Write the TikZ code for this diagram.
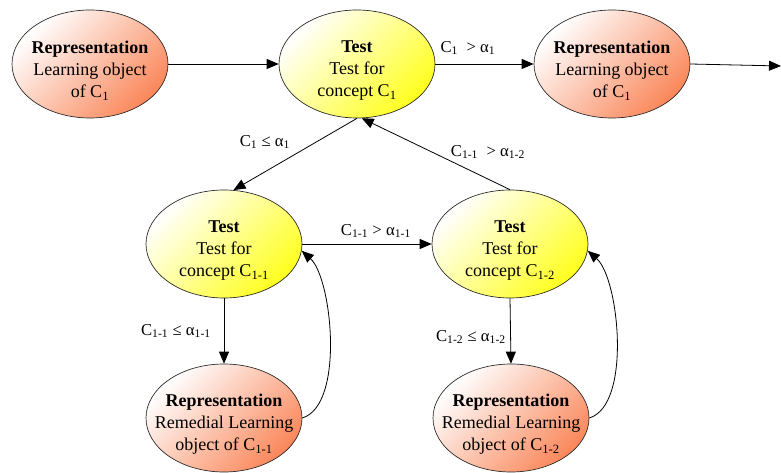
\documentclass[tikz,border=0pt]{standalone}
\usepackage{fontspec}
\setmainfont{Liberation Serif}
\usetikzlibrary{shapes.geometric,arrows.meta}

\definecolor{repfill}{RGB}{250,135,90}
\definecolor{testfill}{RGB}{255,255,30}

\newcommand{\sbs}[1]{\textsubscript{#1}}
% bold heading line; the strut sets the text block a little low in its ellipse
\newcommand{\heading}[1]{\rule{0pt}{19pt}\textbf{#1}}

\tikzset{
  stateshape/.style={ellipse, draw=black!85, line width=0.5pt,
    minimum width=117pt, minimum height=81pt, inner xsep=-14pt, inner ysep=-6pt,
    align=center, font=\fontsize{13.5}{16.5}\selectfont},
  repnode/.style={stateshape, top color=white, bottom color=repfill, shading angle=45},
  testnode/.style={stateshape, top color=white, bottom color=testfill, shading angle=45},
  link/.style={line width=0.6pt, -{Triangle[length=9pt,width=7.5pt]}},
  cond/.style={inner sep=0pt, font=\fontsize{12.5}{14}\selectfont}
}

\begin{document}
\begin{tikzpicture}[x=0.75pt, y=-0.75pt]
  \useasboundingbox (0,0) rectangle (781,473);

  % top row
  \node[repnode]  (R1)  at (90,64)  {\heading{Representation}\\Learning object\\of C\sbs{1}};
  \node[testnode] (T1)  at (357,64) {\heading{Test}\\Test for\\concept C\sbs{1}};
  \node[repnode]  (R2)  at (612,64) {\heading{Representation}\\Learning object\\of C\sbs{1}};
  \coordinate (out) at (781,66);

  % sub-concept tests
  \node[testnode] (T11) at (224,244) {\heading{Test}\\Test for\\concept C\sbs{1-1}};
  \node[testnode] (T12) at (510,244) {\heading{Test}\\Test for\\concept C\sbs{1-2}};

  % remedial material
  \node[repnode]  (R11) at (224,418) {\heading{Representation}\\Remedial Learning\\object of C\sbs{1-1}};
  \node[repnode]  (R12) at (511,418) {\heading{Representation}\\Remedial Learning\\object of C\sbs{1-2}};

  % connectors
  \draw[link] (R1.east) -- (T1.west);
  \draw[link] (T1.east) -- (R2.west);
  \draw[link] (R2.east) -- (out);
  \draw[link] (T1.south) -- (T11.80);
  \draw[link] (T12.north) -- (T1.-85);
  \draw[link] (T11.east) -- (T12.west);
  \draw[link] (T11.south) -- (R11.north);
  \draw[link] (T12.south) -- (R12.north);
  \draw[link] (R11.east) .. controls (345,405) and (332,278) .. (T11.-5);
  \draw[link] (R12.east) .. controls (632,405) and (619,278) .. (T12.-5);

  % conditions
  \node[cond] (c1) at (468,48)  {C\sbs{1}\ \ > α\sbs{1}};
  \node[cond] (c2) at (265,142) {C\sbs{1} ≤ α\sbs{1}};
  \node[cond] (c3) at (488,152) {C\sbs{1-1}\ \ > α\sbs{1-2}};
  \node[cond] (c4) at (376,231) {C\sbs{1-1} > α\sbs{1-1}};
  \node[cond] (c5) at (176,331) {C\sbs{1-1} ≤ α\sbs{1-1}};
  \node[cond] (c6) at (471,337) {C\sbs{1-2} ≤ α\sbs{1-2}};
\end{tikzpicture}
\end{document}
